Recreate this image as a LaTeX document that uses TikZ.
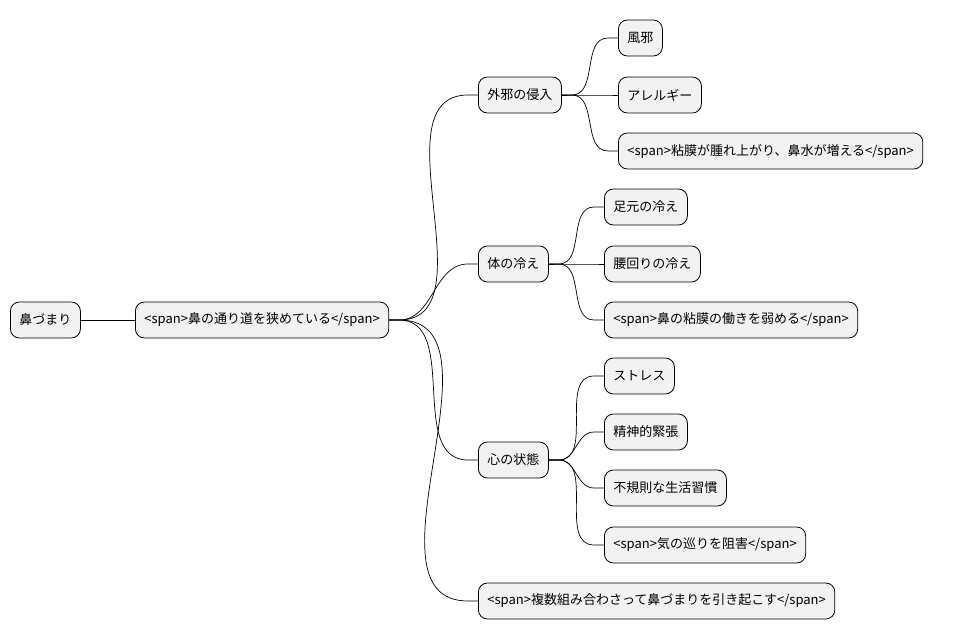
\documentclass[tikz,border=0pt]{standalone}
\usepackage{fontspec}
\setmainfont{Noto Sans CJK JP}
\usepackage{tikz}
\tikzset{
  idea/.style={draw=black, line width=0.8pt, fill=gray!10, rounded corners=9pt,
    minimum height=36pt, inner xsep=9pt, anchor=west, font=\fontsize{13}{15}\selectfont},
  branch/.style={line width=0.7pt}
}
\begin{document}
\begin{tikzpicture}[x=1pt,y=-1pt]
      \useasboundingbox (0,0) rectangle (978,640);
        \node [idea] (root) at (10,320) {鼻づまり};
        \node [idea] (narrow) at (135,320) {<span>鼻の通り道を狭めている</span>};

        \node [idea] (gaija) at (478,95) {外邪の侵入};
        \node [idea] (kaze) at (618,38) {風邪};
        \node [idea] (allergy) at (618,95) {アレルギー};
        \node [idea] (nenmaku) at (618,151) {<span>粘膜が腫れ上がり、鼻水が増える</span>};

        \node [idea] (hie) at (478,264) {体の冷え};
        \node [idea] (ashi) at (604,207) {足元の冷え};
        \node [idea] (koshi) at (604,264) {腰回りの冷え};
        \node [idea] (yowa) at (604,320) {<span>鼻の粘膜の働きを弱める</span>};

        \node [idea] (kokoro) at (478,460) {心の状態};
        \node [idea] (stress) at (604,376) {ストレス};
        \node [idea] (kinchou) at (604,432) {精神的緊張};
        \node [idea] (seikatsu) at (604,488) {不規則な生活習慣};
        \node [idea] (meguri) at (604,545) {<span>気の巡りを阻害</span>};

        \node [idea] (fukusu) at (478,601) {<span>複数組み合わさって鼻づまりを引き起こす</span>};

        \draw [branch] (root.east) -- (narrow.west);
        \foreach \a/\b in {narrow/gaija, narrow/hie, narrow/kokoro, narrow/fukusu,
            gaija/kaze, gaija/allergy, gaija/nenmaku,
            hie/ashi, hie/koshi, hie/yowa,
            kokoro/stress, kokoro/kinchou, kokoro/seikatsu, kokoro/meguri}
          \draw [branch] (\a.east) -- ++(10,0)
            to[out=0, in=180] ([xshift=-10pt]\b.west) -- (\b.west);
\end{tikzpicture}
\end{document}
